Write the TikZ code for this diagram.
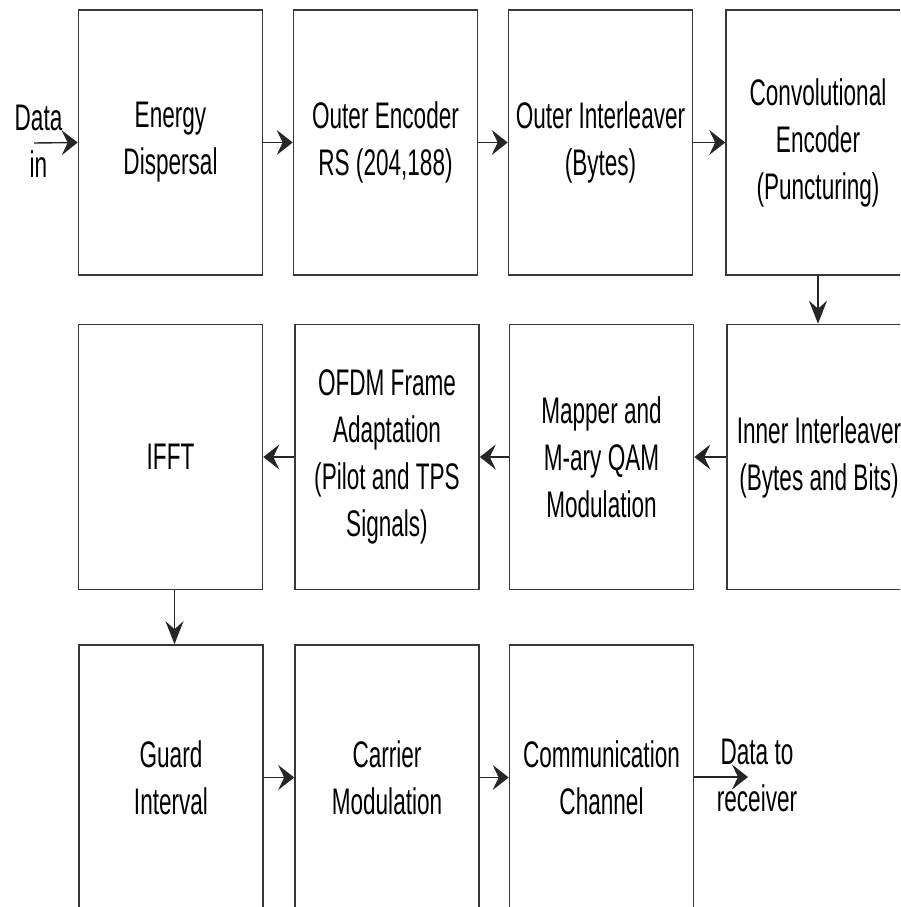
\documentclass[tikz,border=0pt]{standalone}
\usepackage{fontspec}
\setmainfont[FakeStretch=0.61]{Liberation Sans}
\usetikzlibrary{arrows.meta,positioning}

\tikzset{
  block/.style={draw=black!78, line width=1.6pt, fill=white,
    minimum width=184pt, minimum height=265pt, inner sep=0pt,
    align=center, font=\fontsize{37}{47}\selectfont},
  label/.style={inner sep=0pt, align=center, font=\fontsize{37}{47}\selectfont},
  flow/.style={draw=black!85, line width=1.4pt,
    -{Stealth[length=16pt, width=25pt, inset=6pt]}},
  downflow/.style={draw=black!85, line width=1.4pt,
    -{Stealth[length=23pt, width=18pt, inset=8pt]}}
}

\begin{document}
\begin{tikzpicture}[x=1pt, y=-1pt]
  \useasboundingbox (0,0) rectangle (900,907);
  \clip (0,0) rectangle (900,907);

  % first row, left to right
  \node[block] (ed)   at (170.5,142.5) {Energy\\Dispersal};
  \node[block] (oenc) at (385.5,142.5) {Outer Encoder\\RS (204,188)};
  \node[block] (oint) at (600.5,142.5) {Outer Interleaver\\(Bytes)};
  \node[block] (conv) at (818,142.5)   {Convolutional\\Encoder\\(Puncturing)};

  % second row, right to left
  \node[block] (iint) at (819,457)   {Inner Interleaver\\(Bytes and Bits)};
  \node[block] (map)  at (601.5,457) {Mapper and\\M-ary QAM\\Modulation};
  \node[block] (ofdm) at (387,457)   {OFDM Frame\\Adaptation\\(Pilot and TPS\\Signals)};
  \node[block] (ifft) at (170.5,457) {IFFT};

  % third row, left to right
  \node[block] (gi)   at (171,777.5)   {Guard\\Interval};
  \node[block] (cm)   at (387,777.5)   {Carrier\\Modulation};
  \node[block] (ch)   at (601.5,777.5) {Communication\\Channel};

  % input and output labels
  \node[label] (din)  at (38.5,141) {Data\\in};
  \node[label] (dout) at (757,775)  {Data to\\receiver};
  \coordinate (inStart) at (34,143);
  \coordinate (outEnd)  at (748,777);

  % connectors
  \draw[flow] (inStart) -- (ed.west);
  \draw[flow] (ed) -- (oenc);
  \draw[flow] (oenc) -- (oint);
  \draw[flow] (oint) -- (conv);
  \draw[downflow] (conv.south) -- (conv.south |- iint.north);
  \draw[flow] (iint) -- (map);
  \draw[flow] (map) -- (ofdm);
  \draw[flow] (ofdm) -- (ifft);
  \draw[downflow] ([xshift=4pt]ifft.south) -- ([xshift=4pt]ifft.south |- gi.north);
  \draw[flow] (gi) -- (cm);
  \draw[flow] (cm) -- (ch);
  \draw[flow] (ch.east |- outEnd) -- (outEnd);
\end{tikzpicture}
\end{document}
